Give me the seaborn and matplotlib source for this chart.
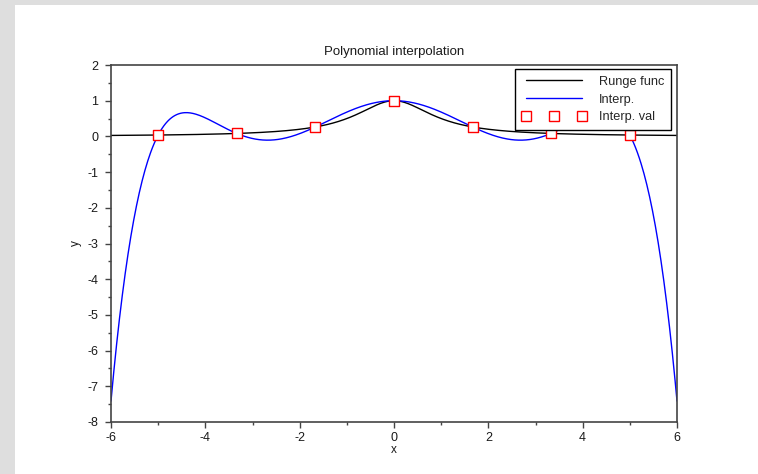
import numpy as np
import pandas as pd
import matplotlib
matplotlib.use("Agg")
import matplotlib.pyplot as plt
from matplotlib.lines import Line2D
from matplotlib.patches import Rectangle
from matplotlib.ticker import MultipleLocator
import seaborn as sns

# Interpolation nodes and the Runge function values at them
node_x = [-5.0, -10 / 3, -5 / 3, 0.0, 5 / 3, 10 / 3, 5.0]
node_y = [0.0385, 0.0826, 0.2647, 1.0, 0.2647, 0.0826, 0.0385]

x_range = [-6, 6]
y_range = [-8, 2]
x_ticks = [-6, -4, -2, 0, 2, 4, 6]
y_ticks = [-8, -7, -6, -5, -4, -3, -2, -1, 0, 1, 2]
legend_labels = ["Runge func", "Interp.", "Interp. val"]


def runge(x):
    return 1.0 / (1.0 + x ** 2)


def lagrange(nx, ny, x):
    nx = np.asarray(nx)
    ny = np.asarray(ny)
    out = np.zeros_like(x)
    for i in range(len(nx)):
        term = np.full_like(x, ny[i])
        for j in range(len(nx)):
            if j != i:
                term *= (x - nx[j]) / (nx[i] - nx[j])
        out += term
    return out


xs = np.linspace(x_range[0], x_range[1], 601)
curve_df = pd.DataFrame({"x": xs, "runge": runge(xs), "interp": lagrange(node_x, node_y, xs)})
nodes_df = pd.DataFrame({"x": node_x, "y": node_y})

sns.set_style("ticks")
plt.rcParams["font.family"] = ["Liberation Sans", "DejaVu Sans"]

fig = plt.figure(figsize=(7.58, 4.74), dpi=100)
fig.patch.set_facecolor("white")
# light grey frame strips along the top and left edges
fig.add_artist(Rectangle((0, 1 - 5 / 474), 1, 5 / 474, transform=fig.transFigure,
                         facecolor="#dedede", edgecolor="none", zorder=0))
fig.add_artist(Rectangle((0, 0), 15 / 758, 1, transform=fig.transFigure,
                         facecolor="#dedede", edgecolor="none", zorder=0))

ax = fig.add_axes([111 / 758, 1 - 422 / 474, (677 - 111) / 758, (422 - 65) / 474])

sns.lineplot(data=curve_df, x="x", y="runge", ax=ax, color="black", linewidth=1.0,
             sort=False, estimator=None)
sns.lineplot(data=curve_df, x="x", y="interp", ax=ax, color="#0000ff", linewidth=1.0,
             sort=False, estimator=None)
sns.scatterplot(data=nodes_df, x="x", y="y", ax=ax, marker="s", s=50,
                facecolor="white", edgecolor="#ff0000", linewidth=1.0, zorder=5)

ax.set_xlim(x_range)
ax.set_ylim(y_range)
ax.set_xticks(x_ticks)
ax.set_yticks(y_ticks)
ax.set_xticklabels([str(t) for t in x_ticks])
ax.set_yticklabels([str(t) for t in y_ticks])
ax.xaxis.set_minor_locator(MultipleLocator(1))
ax.yaxis.set_minor_locator(MultipleLocator(0.5))

spine_color = "#444444"
for side in ["left", "bottom", "top", "right"]:
    ax.spines[side].set_visible(True)
    ax.spines[side].set_color(spine_color)
    ax.spines[side].set_linewidth(1.2)
ax.tick_params(axis="both", which="major", direction="out", length=4, width=1,
               color=spine_color, labelsize=9, labelcolor="#1a1a1a",
               top=False, right=False)
ax.tick_params(axis="x", which="major", pad=3.5)
ax.tick_params(axis="y", which="major", pad=5)
ax.tick_params(axis="both", which="minor", direction="out", length=2, width=1,
               color=spine_color, top=False, right=False)

ax.set_title("Polynomial interpolation", fontsize=9.5, color="#1a1a1a", pad=7)
ax.set_xlabel("x", fontsize=8.5, color="#1a1a1a", labelpad=0)
ax.set_ylabel("y", fontsize=8.5, color="#1a1a1a", labelpad=4)

handles = [
    Line2D([], [], color="black", linewidth=1.0),
    Line2D([], [], color="#0000ff", linewidth=1.0),
    Line2D([], [], color="none", marker="s", markersize=7, markerfacecolor="white",
           markeredgecolor="#ff0000", markeredgewidth=1.0),
]
leg = ax.legend(handles, legend_labels, loc="upper right", numpoints=3,
                handlelength=5.0, handletextpad=1.0, fontsize=9.2, frameon=True,
                fancybox=False, borderpad=0.55, labelspacing=0.45,
                bbox_to_anchor=(0.9894, 0.989), borderaxespad=0.0)
leg.get_frame().set_edgecolor("black")
leg.get_frame().set_linewidth(1.0)
leg.get_frame().set_facecolor("white")
leg.get_frame().set_alpha(1.0)
leg.set_zorder(10)

fig.savefig("out.png", dpi=100, facecolor=fig.get_facecolor())
